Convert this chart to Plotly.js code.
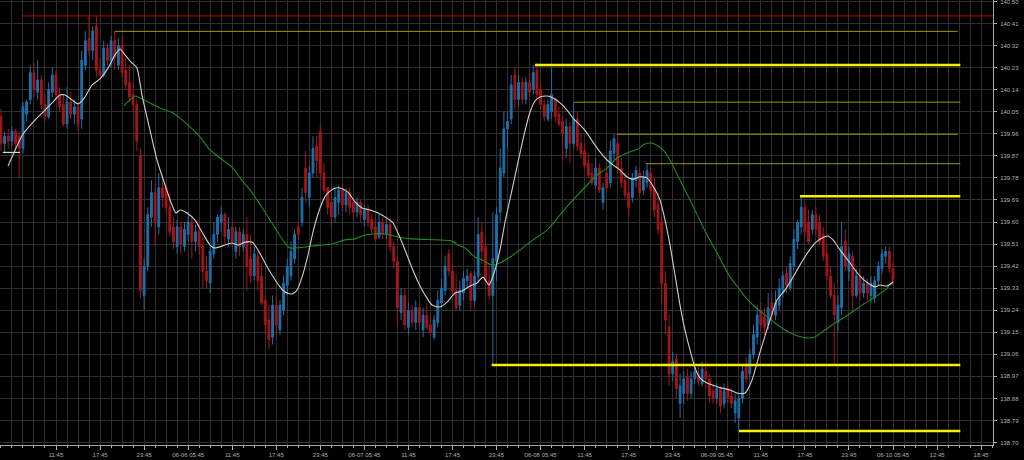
<!DOCTYPE html>
<html><head><meta charset="utf-8">
<script src="https://cdn.plot.ly/plotly-3.0.1.min.js"></script>
<style>html,body{margin:0;padding:0;background:#000;}#chart{width:1024px;height:460px;}</style>
</head><body><div id="chart"></div>
<script>
// 30-minute candles, time axis in hours since 06-05 00:00
const candleStartHour = 4.25;
const candleStepHours = 0.5;

const open = [140.03,139.92,139.95,139.93,139.97,139.95,139.90,140.04,140.10,140.21,140.13,140.18,140.08,140.03,140.13,140.20,140.12,140.08,140.00,140.09,
140.04,140.07,140.02,140.24,140.35,140.30,140.40,140.22,140.20,140.31,140.26,140.34,140.24,140.32,140.22,140.17,140.12,140.08,139.87,139.30,
139.42,139.62,139.72,139.58,139.74,139.74,139.66,139.58,139.50,139.58,139.50,139.55,139.60,139.52,139.56,139.50,139.40,139.35,139.47,139.55,
139.60,139.63,139.53,139.58,139.48,139.56,139.50,139.55,139.45,139.38,139.46,139.38,139.28,139.20,139.13,139.26,139.16,139.24,139.34,139.38,
139.45,139.58,139.60,139.82,139.70,139.80,139.91,139.97,139.80,139.74,139.68,139.62,139.68,139.73,139.67,139.72,139.68,139.64,139.68,139.61,
139.65,139.61,139.58,139.54,139.60,139.55,139.59,139.50,139.44,139.23,139.30,139.17,139.24,139.19,139.25,139.16,139.22,139.18,139.13,139.19,
139.27,139.32,139.47,139.40,139.32,139.26,139.31,139.36,139.39,139.28,139.38,139.56,139.50,139.36,139.30,139.44,139.64,139.80,139.98,140.02,
140.20,140.10,140.17,140.10,140.17,140.14,140.22,140.14,140.08,140.02,140.05,140.10,140.04,140.01,139.90,139.99,139.92,140.02,139.92,139.89,
139.84,139.80,139.75,139.82,139.68,139.80,139.76,139.88,139.92,139.82,139.77,139.72,139.70,139.77,139.80,139.73,139.76,139.80,139.74,139.67,
139.60,139.35,139.17,138.98,139.04,138.86,138.90,138.97,138.90,138.96,138.98,138.94,138.99,138.96,138.91,138.88,138.92,138.86,138.92,138.89,
138.82,138.80,138.88,139.02,138.98,139.06,139.13,139.24,139.21,139.18,139.27,139.22,139.26,139.32,139.39,139.33,139.42,139.52,139.58,139.66,
139.60,139.57,139.63,139.60,139.55,139.47,139.38,139.30,139.19,139.25,139.52,139.40,139.46,139.30,139.38,139.31,139.35,139.30,139.29,139.36,
139.41,139.46,139.48,139.41];
const high = [140.06,139.97,139.98,139.99,139.98,139.97,140.09,140.10,140.24,140.25,140.26,140.20,140.12,140.17,140.23,140.22,140.15,140.12,140.15,140.13,
140.10,140.09,140.30,140.38,140.44,140.40,140.44,140.27,140.34,140.33,140.36,140.38,140.35,140.36,140.27,140.24,140.17,140.10,139.90,139.45,
139.66,139.77,139.76,139.80,139.79,139.76,139.72,139.62,139.61,139.60,139.60,139.64,139.62,139.59,139.60,139.54,139.46,139.50,139.60,139.63,
139.66,139.64,139.62,139.60,139.58,139.58,139.57,139.62,139.55,139.50,139.48,139.43,139.30,139.26,139.30,139.30,139.28,139.38,139.45,139.52,
139.57,139.60,139.74,139.89,139.83,139.95,139.95,140.00,139.84,139.74,139.72,139.74,139.75,139.76,139.74,139.74,139.70,139.70,139.69,139.67,
139.67,139.63,139.62,139.63,139.62,139.62,139.62,139.52,139.46,139.33,139.33,139.27,139.26,139.28,139.27,139.25,139.27,139.22,139.22,139.32,
139.37,139.46,139.49,139.42,139.39,139.36,139.40,139.41,139.40,139.40,139.62,139.60,139.54,139.42,139.64,139.66,139.90,140.05,140.05,140.20,
140.23,140.20,140.19,140.19,140.21,140.24,140.25,140.17,140.10,140.10,140.23,140.11,140.07,140.03,140.02,140.01,140.09,140.05,139.96,139.92,
139.88,139.84,139.86,139.84,139.76,139.84,139.93,139.96,139.96,139.86,139.80,139.76,139.80,139.83,139.82,139.81,139.84,139.82,139.78,139.72,
139.62,139.40,139.22,139.07,139.06,138.98,138.99,139.00,138.99,139.01,139.01,139.03,139.03,138.98,138.94,138.94,138.93,138.94,138.95,138.92,
138.90,138.90,139.02,139.05,139.08,139.18,139.26,139.27,139.25,139.31,139.31,139.32,139.37,139.40,139.42,139.46,139.57,139.61,139.71,139.68,
139.65,139.65,139.66,139.63,139.58,139.51,139.42,139.35,139.30,139.60,139.57,139.50,139.48,139.41,139.41,139.38,139.37,139.38,139.38,139.44,
139.49,139.50,139.50,139.44];
const low = [139.89,139.88,139.90,139.91,139.90,139.78,139.88,140.01,140.08,140.11,140.10,140.06,140.01,140.02,140.11,140.10,140.05,139.99,139.98,140.02,
140.00,139.97,139.98,140.22,140.28,140.26,140.19,140.18,140.19,140.24,140.23,140.22,140.22,140.19,140.14,140.09,140.05,139.89,139.29,139.24,
139.40,139.58,139.50,139.55,139.66,139.63,139.54,139.49,139.47,139.47,139.48,139.52,139.45,139.48,139.47,139.33,139.33,139.31,139.45,139.52,
139.56,139.51,139.50,139.49,139.45,139.46,139.48,139.32,139.35,139.36,139.32,139.26,139.14,139.08,139.10,139.14,139.14,139.22,139.30,139.36,
139.43,139.53,139.58,139.68,139.66,139.78,139.78,139.77,139.72,139.63,139.58,139.60,139.63,139.64,139.64,139.63,139.61,139.62,139.60,139.58,
139.58,139.55,139.52,139.53,139.53,139.53,139.48,139.41,139.18,139.20,139.16,139.14,139.17,139.16,139.17,139.13,139.16,139.13,139.12,139.17,
139.25,139.30,139.38,139.30,139.24,139.24,139.28,139.33,139.24,139.26,139.35,139.43,139.34,139.28,139.02,139.36,139.60,139.78,139.90,140.00,
140.06,140.07,140.08,140.08,140.11,140.12,140.10,140.06,140.01,140.01,140.02,140.01,139.99,139.85,139.86,139.84,139.90,139.89,139.86,139.82,
139.78,139.75,139.74,139.72,139.65,139.72,139.74,139.85,139.80,139.74,139.69,139.62,139.68,139.74,139.70,139.71,139.74,139.70,139.62,139.55,
139.27,139.14,138.93,138.95,138.88,138.80,138.86,138.87,138.88,138.94,138.93,138.93,138.92,138.86,138.86,138.86,138.82,138.84,138.86,138.84,
138.78,138.75,138.86,138.94,138.96,139.04,139.10,139.15,139.14,139.16,139.20,139.20,139.24,139.29,139.31,139.32,139.40,139.49,139.55,139.54,
139.51,139.55,139.55,139.51,139.44,139.36,139.29,139.02,139.15,139.22,139.40,139.36,139.24,139.29,139.28,139.29,139.28,139.27,139.27,139.34,
139.39,139.43,139.39,139.34];
const close = [139.92,139.95,139.93,139.97,139.92,139.90,140.07,140.09,140.21,140.14,140.18,140.08,140.03,140.14,140.20,140.12,140.07,140.00,140.09,140.04,
140.07,140.00,140.26,140.34,140.30,140.38,140.22,140.20,140.31,140.26,140.34,140.27,140.32,140.21,140.16,140.11,140.08,139.93,139.32,139.42,
139.63,139.72,139.60,139.74,139.70,139.66,139.56,139.52,139.58,139.51,139.57,139.60,139.52,139.56,139.50,139.40,139.36,139.48,139.55,139.62,
139.63,139.54,139.57,139.52,139.56,139.50,139.55,139.42,139.38,139.47,139.36,139.27,139.18,139.12,139.26,139.18,139.26,139.35,139.42,139.48,
139.55,139.55,139.70,139.72,139.80,139.90,139.85,139.80,139.73,139.66,139.62,139.70,139.73,139.67,139.72,139.66,139.64,139.68,139.63,139.65,
139.60,139.57,139.53,139.60,139.55,139.59,139.50,139.44,139.25,139.30,139.18,139.24,139.19,139.25,139.19,139.22,139.17,139.15,139.20,139.28,
139.33,139.42,139.40,139.32,139.25,139.32,139.37,139.38,139.28,139.38,139.55,139.48,139.36,139.30,139.45,139.63,139.82,139.98,140.01,140.16,
140.10,140.17,140.10,140.17,140.13,140.21,140.12,140.08,140.03,140.08,140.12,140.03,140.00,139.96,139.99,139.92,140.02,139.91,139.88,139.83,
139.79,139.76,139.82,139.73,139.74,139.74,139.89,139.94,139.82,139.76,139.71,139.66,139.78,139.81,139.72,139.78,139.81,139.73,139.65,139.57,
139.35,139.20,138.98,139.03,138.92,138.93,138.96,138.90,138.96,138.99,138.95,139.00,138.96,138.89,138.88,138.92,138.85,138.91,138.88,138.86,
138.87,138.88,138.99,138.96,139.06,139.14,139.22,139.18,139.17,139.25,139.22,139.27,139.33,139.38,139.34,139.43,139.53,139.60,139.66,139.56,
139.52,139.63,139.57,139.52,139.46,139.38,139.30,139.22,139.26,139.50,139.42,139.47,139.30,139.38,139.31,139.35,139.31,139.35,139.36,139.42,
139.47,139.48,139.41,139.36];

// fast (white) moving average
const fastMaHours = [5.21,6.44,7.26,8.89,10.25,11.21,12.30,12.98,13.93,14.75,15.70,16.65,17.74,18.83,19.79,20.47,21.15,21.97,22.78,23.46,24.55,25.51,26.60,27.55,28.10,28.64,29.59,30.68,31.64,32.73,33.41,34.77,35.72,36.54,37.49,38.45,39.26,40.22,41.17,42.26,42.94,43.89,44.58,45.26,46.07,46.75,47.71,48.52,49.48,50.43,51.52,52.48,53.43,54.52,55.61,56.83,57.65,58.33,59.29,60.24,61.06,62.01,62.96,64.05,65.01,66.10,67.05,68.14,69.09,69.91,70.73,71.54,72.22,72.91,73.86,74.68,75.49,76.31,76.99,77.67,78.63,79.44,80.40,81.35,82.17,83.12,84.08,84.89,85.84,86.80,87.62,88.57,89.52,90.34,91.29,92.25,93.06,94.02,94.70,95.38,96.06,96.74,97.42,98.10,98.79,99.47,100.42,101.51,102.47,103.56,104.51,105.60,106.55,107.64,109.00,109.95,111.04,112.13,113.09,114.18,115.13,116.08,116.90,117.58,118.53,119.89,120.57,121.52,122.34,123.29,123.97,124.92,125.74];
const fastMaValues = [139.828,139.910,139.959,140.016,140.057,140.086,140.118,140.118,140.098,140.082,140.110,140.159,140.184,140.228,140.282,140.306,140.282,140.253,140.228,140.118,139.975,139.853,139.751,139.669,139.637,139.649,139.637,139.608,139.559,139.506,139.494,139.506,139.514,139.506,139.518,139.518,139.486,139.433,139.384,139.335,139.314,139.306,139.322,139.375,139.465,139.559,139.657,139.710,139.735,139.739,139.722,139.682,139.657,139.649,139.637,139.616,139.596,139.555,139.486,139.412,139.355,139.302,139.261,139.253,139.273,139.310,139.318,139.339,139.351,139.375,139.343,139.404,139.486,139.600,139.731,139.845,139.955,140.049,140.094,140.110,140.114,140.106,140.086,140.057,140.024,139.996,139.963,139.926,139.886,139.853,139.833,139.812,139.784,139.775,139.784,139.780,139.747,139.690,139.608,139.506,139.384,139.261,139.159,139.078,139.004,138.963,138.943,138.931,138.922,138.914,138.902,138.902,138.955,139.069,139.200,139.282,139.322,139.375,139.425,139.477,139.514,139.535,139.543,139.527,139.486,139.433,139.404,139.371,139.351,139.335,139.343,139.339,139.355];

// slow (green) moving average
const slowMaHours = [21.01,22.51,23.19,24.55,25.92,27.69,28.64,30.00,31.36,32.73,34.09,35.72,36.81,38.17,38.85,40.22,41.58,42.94,43.62,46.62,49.34,51.11,52.48,53.43,54.79,56.56,58.33,60.24,63.78,65.69,66.50,67.46,68.82,69.77,71.14,72.22,73.59,74.95,76.72,78.63,80.40,82.17,84.08,85.44,86.80,88.16,89.52,91.02,91.97,92.93,93.74,94.42,95.38,96.74,98.10,99.87,101.78,103.56,104.92,105.60,106.96,108.33,109.69,111.04,112.41,114.03,115.13,116.49,117.85,119.22,120.57,121.94,123.29,124.64,125.74];
const slowMaValues = [140.074,140.114,140.106,140.086,140.065,140.045,140.024,139.988,139.947,139.894,139.861,139.824,139.780,139.731,139.702,139.641,139.576,139.514,139.494,139.502,139.510,139.527,139.531,139.543,139.551,139.551,139.539,139.531,139.527,139.522,139.506,139.494,139.457,139.445,139.424,139.433,139.457,139.486,139.527,139.567,139.629,139.690,139.751,139.792,139.820,139.861,139.882,139.898,139.918,139.922,139.910,139.894,139.853,139.771,139.690,139.580,139.473,139.375,139.322,139.294,139.253,139.220,139.188,139.159,139.139,139.127,139.131,139.159,139.188,139.212,139.241,139.269,139.294,139.322,139.355];

// horizontal price levels
const levelPrices     = [140.441, 140.378, 140.241, 140.089, 139.958, 139.838, 139.705, 139.016, 138.747];
const levelStartHours = [7.12, 19.79, 76.99, 82.34, 88.12, 92.11, 113.08, 71.09, 104.77];
const levelEndHours   = [140.0, 134.56, 134.92, 134.92, 134.56, 134.92, 134.92, 134.92, 134.92];
const levelKinds      = ['red', 'minor', 'major', 'minor', 'minor', 'minor', 'major', 'major', 'major'];

// short white price marker at the start
const markerHours = [4.50, 6.85];
const markerPrice = 139.884;

const yTickValues = [138.70,138.79,138.88,138.97,139.06,139.15,139.24,139.33,139.42,139.51,139.60,139.69,139.78,139.87,139.96,140.05,140.14,140.23,140.32,140.41,140.50];
const xTickLabels = ['11:45','17:45','23:45','06-06 05:45','11:45','17:45','23:45','06-07 05:45','11:45','17:45','23:45','06-08 05:45','11:45','17:45','23:45','06-09 05:45','11:45','17:45','23:45','06-10 05:45','12:45','18:45'];
const xFirstTickHour = 11.75;
const xTickStepHours = 6;

const candleHours = close.map((_, i) => candleStartHour + i * candleStepHours);
const xTickValues = xTickLabels.map((_, i) => xFirstTickHour + i * xTickStepHours);

const levelStyle = {
  red:   {color: '#b80000', width: 1},
  minor: {color: '#9c9a00', width: 1},
  major: {color: '#f5f000', width: 2.5}
};

const traces = [];
levelPrices.forEach((p, k) => {
  traces.push({type: 'scatter', mode: 'lines', x: [levelStartHours[k], levelEndHours[k]], y: [p, p],
    line: levelStyle[levelKinds[k]], hoverinfo: 'skip'});
});
traces.push({type: 'scatter', mode: 'lines', x: markerHours, y: [markerPrice, markerPrice],
  line: {color: '#d8d8d8', width: 1.2}, hoverinfo: 'skip'});
traces.push({
  type: 'candlestick', x: candleHours, open: open, high: high, low: low, close: close,
  increasing: {line: {color: '#1f70a8', width: 1}, fillcolor: '#1f70a8'},
  decreasing: {line: {color: '#a5161a', width: 1}, fillcolor: '#a5161a'},
  whiskerwidth: 0, hoverinfo: 'skip'
});
traces.push({type: 'scatter', mode: 'lines', x: slowMaHours, y: slowMaValues,
  line: {color: '#1f8a1f', width: 1.1, shape: 'spline', smoothing: 0.6}, hoverinfo: 'skip'});
traces.push({type: 'scatter', mode: 'lines', x: fastMaHours, y: fastMaValues,
  line: {color: '#cfcfcf', width: 1.1, shape: 'spline', smoothing: 0.6}, hoverinfo: 'skip'});

const tickFont = {family: 'Liberation Sans, Arial, sans-serif', size: 6, color: '#b0b0b0'};
const gridColor = '#2f2f2f';

const layout = {
  width: 1024, height: 460,
  paper_bgcolor: '#000', plot_bgcolor: '#000',
  margin: {l: 0, r: 31, t: 0, b: 15, pad: 0},
  showlegend: false,
  xaxis: {
    range: [4.123, 139.37], tickmode: 'array', tickvals: xTickValues, ticktext: xTickLabels,
    ticks: 'outside', ticklen: 4, tickcolor: '#aaaaaa', tickwidth: 1,
    showline: true, linecolor: '#aaaaaa', linewidth: 1,
    showgrid: true, gridcolor: gridColor, gridwidth: 1, zeroline: false,
    tickfont: tickFont, rangeslider: {visible: false}, fixedrange: true,
    minor: {tickmode: 'linear', tick0: 11.75, dtick: 1.5, showgrid: true, gridcolor: gridColor, gridwidth: 1,
            ticks: 'outside', ticklen: 2, tickcolor: '#aaaaaa'}
  },
  yaxis: {
    side: 'right', range: [138.6898, 140.5061], tickmode: 'array',
    tickvals: yTickValues, ticktext: yTickValues.map(v => v.toFixed(2)),
    ticks: 'outside', ticklen: 3, tickcolor: '#aaaaaa', ticklabeloverflow: 'allow',
    ticklabelstandoff: 2,
    showline: true, linecolor: '#aaaaaa', linewidth: 1,
    showgrid: true, gridcolor: gridColor, gridwidth: 1, zeroline: false,
    tickfont: tickFont, fixedrange: true
  }
};

Plotly.newPlot('chart', traces, layout, {staticPlot: true, displayModeBar: false});
</script>
</body></html>
